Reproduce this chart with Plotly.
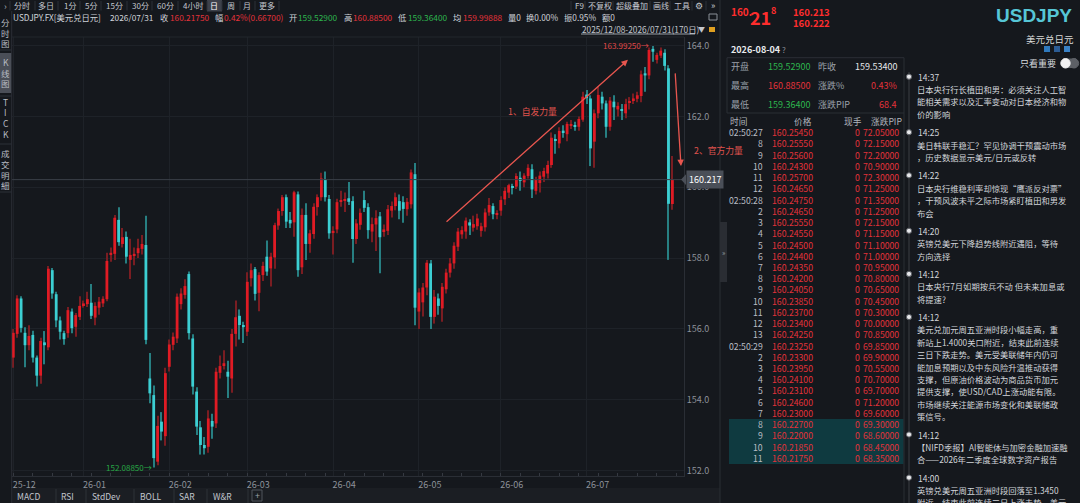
import plotly.graph_objects as go

W, H = 1080, 503
FONT = "Noto Sans CJK SC, Noto Sans, sans-serif"
BG = "#15181d"
RED = "#e01b24"
CYAN = "#3ccfd3"
RED_WICK = "#7a1d22"
CYAN_WICK = "#277f82"
TXT = "#cfd3d9"
GREY = "#8d929a"
LINE = "#2a2e35"
GRID = "#1e2228"
T_RED = "#e3323a"
T_GREEN = "#2db64e"

# ---- daily candles 2025/12/08 - 2026/07/31 (170 days) ----
opens = [155.19, 155.86, 156.86, 155.89, 155.54, 155.83, 155.19, 154.68, 155.62, 155.48,
         157.66, 156.98, 156.24, 155.88, 155.88, 156.49, 156.06, 156.34, 156.67, 156.70,
         156.74, 156.32, 156.60, 156.72, 156.84, 158.09, 158.12, 159.08, 158.40, 158.60,
         157.95, 158.06, 158.14, 158.26, 158.37, 154.60, 154.13, 152.25, 153.38, 152.97,
         154.93, 155.55, 155.73, 156.70, 156.96, 157.55, 155.73, 154.23, 153.22, 152.72,
         152.67, 153.40, 153.33, 154.76, 154.98, 154.79, 154.60, 155.86, 156.37, 156.11,
         155.92, 157.43, 157.69, 157.02, 157.52, 158.04, 157.71, 158.02, 158.92, 159.33,
         159.72, 159.08, 159.01, 159.80, 157.74, 159.22, 158.40, 158.68, 159.44, 159.72,
         160.21, 159.67, 158.73, 158.81, 159.59, 159.62, 159.69, 159.61, 158.54, 158.94,
         159.64, 159.44, 158.75, 158.95, 159.18, 158.76, 158.77, 159.34, 159.47, 159.61,
         159.58, 159.38, 159.52, 160.37, 156.49, 156.75, 157.17, 157.85, 156.34, 156.86,
         156.58, 157.12, 157.59, 157.85, 158.32, 158.67, 158.75, 159.01, 158.86, 158.90,
         158.77, 158.87, 159.29, 159.47, 159.22, 159.34, 159.66, 159.85, 160.03, 160.02,
         160.27, 160.14, 160.32, 160.51, 159.90, 160.12, 160.30, 160.39, 160.63, 161.36,
         161.24, 161.60, 161.50, 161.76, 161.76, 161.71, 161.91, 162.62, 162.51, 161.29,
         162.09, 162.56, 162.37, 161.71, 162.42, 162.20, 162.21, 162.09, 162.40, 162.46,
         162.50, 162.58, 163.22, 163.16, 163.91, 163.60, 163.72, 163.80, 163.36, 159.529]
highs = [156.00, 156.95, 156.92, 156.05, 156.10, 155.95, 155.25, 155.75, 155.94, 157.78,
         157.72, 157.05, 156.35, 155.95, 156.62, 156.58, 156.45, 156.92, 156.80, 157.05,
         157.27, 156.75, 156.90, 156.92, 158.15, 158.30, 159.22, 159.44, 158.85, 158.75,
         158.55, 158.30, 158.55, 158.65, 159.20, 155.32, 154.40, 153.55, 153.65, 154.90,
         155.70, 155.90, 157.00, 157.15, 157.40, 157.62, 155.85, 154.35, 153.40, 152.95,
         153.70, 153.60, 154.90, 155.25, 155.40, 155.10, 156.00, 156.80, 156.55, 156.20,
         157.60, 157.85, 157.75, 157.60, 157.90, 158.50, 158.15, 159.00, 159.40, 159.78,
         159.80, 159.30, 159.90, 159.88, 159.40, 159.55, 158.80, 159.55, 159.80, 160.41,
         160.45, 159.78, 158.90, 159.68, 159.90, 159.85, 160.15, 159.75, 159.10, 159.40,
         159.90, 159.55, 159.15, 159.35, 159.30, 158.95, 159.50, 159.60, 159.85, 159.80,
         159.75, 159.70, 160.50, 160.69, 157.15, 157.30, 157.95, 157.95, 157.10, 157.00,
         157.30, 157.70, 158.00, 158.45, 158.85, 158.90, 159.15, 159.10, 159.20, 159.25,
         159.00, 159.40, 159.70, 159.55, 159.35, 159.75, 160.00, 160.10, 160.10, 160.40,
         160.45, 160.40, 160.65, 160.65, 160.30, 160.45, 160.55, 160.75, 161.55, 161.50,
         161.70, 161.75, 161.85, 161.90, 161.85, 162.00, 162.70, 162.75, 162.60, 162.20,
         162.85, 162.70, 162.45, 162.55, 162.60, 162.40, 162.35, 162.50, 162.55, 162.65,
         162.70, 163.30, 163.40, 163.95, 163.9925, 163.80, 163.95, 163.90, 163.45, 160.885]
lows = [154.90, 155.75, 155.90, 154.92, 155.40, 155.05, 154.37, 154.45, 155.00, 155.40,
        156.85, 156.05, 155.70, 155.55, 155.75, 155.88, 155.78, 156.25, 156.60, 156.62,
        156.28, 156.10, 156.40, 156.62, 156.78, 157.90, 157.95, 158.35, 158.30, 157.85,
        157.41, 157.80, 158.00, 158.10, 155.57, 153.90, 152.0885, 152.15, 152.85, 152.70,
        154.80, 155.40, 155.60, 156.55, 156.85, 155.70, 154.15, 153.00, 152.45, 152.45,
        152.50, 152.90, 153.20, 154.60, 154.85, 154.05, 154.20, 155.50, 155.70, 155.60,
        155.80, 157.20, 156.80, 156.50, 157.35, 157.50, 157.20, 157.70, 158.80, 159.20,
        158.85, 158.85, 158.60, 157.47, 157.55, 157.95, 158.15, 158.55, 159.20, 159.62,
        159.60, 158.55, 158.10, 158.70, 159.45, 159.30, 159.50, 157.87, 158.40, 158.80,
        159.30, 158.55, 158.45, 158.20, 157.57, 158.60, 158.65, 159.15, 159.35, 159.10,
        159.00, 159.20, 159.40, 156.10, 156.00, 156.35, 156.95, 156.00, 156.15, 156.40,
        156.20, 157.00, 157.45, 157.70, 158.20, 158.55, 158.55, 158.65, 158.75, 158.80,
        158.60, 158.75, 159.20, 159.10, 159.10, 159.20, 159.50, 159.70, 159.80, 159.95,
        159.90, 160.00, 160.25, 159.70, 159.80, 159.85, 160.15, 160.25, 160.55, 160.95,
        161.10, 161.40, 161.30, 161.65, 161.60, 161.60, 161.85, 162.35, 160.60, 160.55,
        161.95, 162.20, 161.40, 161.60, 161.90, 162.00, 161.90, 161.95, 162.20, 162.35,
        162.40, 162.40, 162.70, 163.05, 163.55, 163.50, 163.65, 163.30, 157.95, 159.364]
closes = [155.89, 156.86, 156.03, 155.54, 155.80, 155.19, 154.68, 155.66, 155.54, 157.70,
          157.00, 156.24, 155.92, 155.71, 156.53, 156.02, 156.39, 156.65, 156.72, 156.84,
          156.37, 156.65, 156.77, 156.85, 157.92, 158.15, 159.14, 158.45, 158.59, 158.04,
          158.09, 158.12, 158.28, 158.40, 155.69, 154.18, 152.35, 153.26, 153.10, 154.75,
          155.56, 155.78, 156.91, 157.00, 157.21, 155.88, 154.37, 153.24, 152.72, 152.63,
          153.47, 153.24, 154.79, 154.95, 155.03, 154.65, 155.86, 156.33, 156.11, 156.05,
          157.33, 157.66, 156.99, 157.52, 157.78, 157.62, 158.04, 158.93, 159.33, 159.72,
          159.03, 158.98, 159.86, 157.66, 159.22, 158.40, 158.70, 159.45, 159.72, 160.25,
          159.72, 158.70, 158.77, 159.58, 159.64, 159.67, 159.59, 158.54, 158.98, 159.28,
          159.42, 158.79, 158.96, 159.13, 158.59, 158.81, 159.38, 159.47, 159.72, 159.34,
          159.39, 159.59, 160.42, 156.60, 157.03, 157.17, 157.87, 156.34, 156.91, 156.65,
          157.19, 157.59, 157.85, 158.35, 158.75, 158.79, 159.06, 158.92, 158.96, 159.12,
          158.90, 159.29, 159.50, 159.24, 159.25, 159.64, 159.90, 160.06, 159.99, 160.32,
          160.18, 160.33, 160.55, 159.94, 160.21, 160.33, 160.46, 160.63, 161.40, 161.31,
          161.59, 161.56, 161.79, 161.79, 161.73, 161.93, 162.56, 162.52, 161.10, 162.09,
          162.61, 162.37, 161.71, 162.45, 162.26, 162.30, 162.16, 162.35, 162.44, 162.51,
          162.60, 163.19, 163.16, 163.88, 163.83, 163.74, 163.86, 163.43, 159.534, 160.2175]

month_idx = [0, 18, 40, 60, 82, 104, 125, 147]
month_labels = ["25-12", "26-01", "26-02", "26-03", "26-04", "26-05", "26-06", "26-07"]
price_ticks = [152, 154, 156, 158, 160, 162, 164]

# ---- tick table (right panel) ----
tick_times = ["02:50:27", "8", "9", "10", "11", "12", "02:50:28", "2", "3", "4", "5", "6", "7",
              "8", "9", "10", "11", "12", "13", "02:50:29", "2", "3", "4", "5", "6", "7",
              "8", "9", "10", "11"]
tick_prices = ["160.25450", "160.25550", "160.25600", "160.24300", "160.25700", "160.24650",
               "160.24750", "160.24650", "160.25550", "160.24550", "160.24500", "160.24400",
               "160.24350", "160.24200", "160.24050", "160.23850", "160.23700", "160.23400",
               "160.24250", "160.23250", "160.23300", "160.23950", "160.24100", "160.23100",
               "160.24600", "160.23000", "160.22700", "160.22000", "160.21850", "160.21750"]
tick_pips = ["72.05000", "72.15000", "72.20000", "70.90000", "72.30000", "71.25000",
             "71.35000", "71.25000", "72.15000", "71.15000", "71.10000", "71.00000",
             "70.95000", "70.80000", "70.65000", "70.45000", "70.30000", "70.00000",
             "70.85000", "69.85000", "69.90000", "70.55000", "70.70000", "69.70000",
             "71.20000", "69.60000", "69.30000", "68.60000", "68.45000", "68.35000"]

news_times = ["14:37", "14:25", "14:22", "14:20", "14:12", "14:12", "14:12", "14:00"]
news_lines = [
    ["日本央行行长植田和男：必须关注人工智", "能相关需求以及汇率变动对日本经济和物", "价的影响"],
    ["美日韩联手稳汇？罕见协调干预震动市场", "，历史数据显示美元/日元或反转"],
    ["日本央行维稳利率却惊现“鹰派反对票”", "，干预风波未平之际市场紧盯植田和男发", "布会"],
    ["英镑兑美元下降趋势线附近遇阻，等待", "方向选择"],
    ["日本央行7月如期按兵不动 但未来加息或", "将提速?"],
    ["美元兑加元周五亚洲时段小幅走高，重", "新站上1.4000关口附近，结束此前连续",
     "三日下跌走势。美元受美联储年内仍可", "能加息预期以及中东风险升温推动获得",
     "支撑，但原油价格波动为商品货币加元", "提供支撑，使USD/CAD上涨动能有限。",
     "市场继续关注能源市场变化和美联储政", "策信号。"],
    ["【NIFD季报】AI智能体与加密金融加速融", "合——2026年二季度全球数字资产报告"],
    ["英镑兑美元周五亚洲时段回落至1.3450", "附近，结束此前连续三日上涨走势。美元"],
]

idx = list(range(len(closes)))
up = [c >= o for o, c in zip(opens, closes)]

ann, shapes = [], []


def label(x, y, text, color=TXT, size=8.5, xanchor="left", yanchor="middle", family=FONT):
    ann.append(dict(x=x / W, y=1 - y / H, xref="paper", yref="paper", text=text,
                    showarrow=False, xanchor=xanchor, yanchor=yanchor, borderpad=0,
                    font=dict(color=color, size=size, family=family)))


def line(x0, y0, x1, y1, color=LINE, width=1):
    shapes.append(dict(type="line", xref="paper", yref="paper", x0=x0 / W, y0=1 - y0 / H,
                       x1=x1 / W, y1=1 - y1 / H, line=dict(color=color, width=width)))


def rect(x0, y0, x1, y1, fill, outline=None):
    shapes.append(dict(type="rect", xref="paper", yref="paper", x0=x0 / W, y0=1 - y0 / H,
                       x1=x1 / W, y1=1 - y1 / H, fillcolor=fill, layer="below",
                       line=dict(color=outline or fill, width=1 if outline else 0)))


def dot(x, y, r, fill, outline):
    shapes.append(dict(type="circle", xref="paper", yref="paper", x0=(x - r) / W, y0=1 - (y + r) / H,
                       x1=(x + r) / W, y1=1 - (y - r) / H, fillcolor=fill,
                       line=dict(color=outline, width=1)))


fig = go.Figure()
# wicks then bodies (overlay bars keep trace order)
fig.add_trace(go.Bar(x=idx, y=[h - l for h, l in zip(highs, lows)], base=lows, width=0.26,
                     marker=dict(color=[RED_WICK if u else CYAN_WICK for u in up], line_width=0),
                     hoverinfo="skip"))
fig.add_trace(go.Bar(x=idx, y=[abs(c - o) for o, c in zip(opens, closes)],
                     base=[min(o, c) for o, c in zip(opens, closes)], width=0.72,
                     marker=dict(color=[RED if u else CYAN for u in up], line_width=0),
                     hoverinfo="skip"))

last = closes[-1]
PLOT_L, PLOT_R, PLOT_T, PLOT_B = 12, 684, 37, 476

# current price line + tag
shapes.append(dict(type="line", xref="paper", yref="y", x0=PLOT_L / W, x1=PLOT_R / W, y0=last, y1=last,
                   line=dict(color="#3a3f47", width=1)))
shapes.append(dict(type="path", xref="paper", yref="y", fillcolor="#4a4f58", line=dict(width=0),
                   path=f"M {681 / W},{last} L {686 / W},{last + 0.15} L {686 / W},{last - 0.15} Z"))
ann.append(dict(x=686 / W, y=last, xref="paper", yref="y", text=f"{int(last * 1000) / 1000:.3f}",
                showarrow=False, xanchor="left", yanchor="middle", bgcolor="#4a4f58", borderpad=2,
                font=dict(color="#ffffff", size=9, family=FONT)))
line(PLOT_L, PLOT_T, PLOT_R, PLOT_T, "#22262d")

# extreme labels
hi_i = highs.index(max(highs))
lo_i = lows.index(min(lows))
ann.append(dict(x=651 / W, y=highs[hi_i], xref="paper", yref="y", text=f"{highs[hi_i]:.5f}→",
                showarrow=False, xanchor="right", yanchor="middle",
                font=dict(color="#e04848", size=8, family=FONT)))
ann.append(dict(x=154 / W, y=lows[lo_i], xref="paper", yref="y", text=f"{lows[lo_i]:.5f}→",
                showarrow=False, xanchor="right", yanchor="middle",
                font=dict(color="#27a846", size=8, family=FONT)))

# drawn trend arrows and notes
ARROW = "#e8564f"
ann.append(dict(x=157.6, y=163.6, ax=110.7, ay=158.99, xref="x", yref="y", axref="x", ayref="y",
                text="", showarrow=True, arrowhead=2, arrowsize=1, arrowwidth=1.3, arrowcolor=ARROW))
ann.append(dict(x=171.2, y=160.6, ax=169.7, ay=163.26, xref="x", yref="y", axref="x", ayref="y",
                text="", showarrow=True, arrowhead=2, arrowsize=1, arrowwidth=1.3, arrowcolor=ARROW))
ann.append(dict(x=133, y=162.13, xref="x", yref="y", text="1、自发力量", showarrow=False,
                font=dict(color="#e0534d", size=8.8, family=FONT)))
ann.append(dict(x=692 / W, y=161.05, xref="paper", yref="y", text="2、官方力量", showarrow=False,
                xanchor="left", font=dict(color="#e0534d", size=8.8, family=FONT)))

# ---- top toolbar ----
tb_items = ["分时", "多日", "1分", "5分", "15分", "30分", "60分", "4小时", "日", "周", "月", "更多"]
tb_x = [22, 46, 70, 91, 114, 140, 165, 193, 214, 231, 247, 267]
rect(207, 0, 222, 11.5, "#3d414a")
label(5, 6.2, "›", "#aab0b8", 9, "center")
for t, x in zip(tb_items, tb_x):
    label(x, 5.7, t, "#ffffff" if t == "日" else "#c3c7ce", 8, "center")
for x in [10, 35, 58, 80, 101, 127, 152, 178, 207, 222, 240, 255, 279]:
    line(x, 1, x, 10.5, "#2c3038")
rt_items = ["F9", "不复权", "超级叠加", "画线", "工具"]
rt_x = [574, 587, 615, 652, 673]
for t, x in zip(rt_items, rt_x):
    label(x, 5.7, t, "#c3c7ce", 8)
label(699, 5.7, "⚙", "#c3c7ce", 9, "center")
label(713, 5.7, "»", "#c3c7ce", 9, "center")
for x in [571, 585, 613, 650, 670, 692, 706]:
    line(x, 1, x, 10.5, "#2c3038")
rect(709, 14, 717, 20, BG, "#8a8f97")

# ---- quote row ----
quote = [(12, "USDJPY.FX[美元兑日元]", TXT), (109, "2026/07/31", TXT),
         (159, "收", TXT), (169, "160.21750", T_RED), (214, "幅", TXT), (223, "0.42%(0.66700)", T_RED),
         (288, "开", TXT), (297, "159.52900", T_GREEN), (343, "高", TXT), (352, "160.88500", T_RED),
         (397, "低", TXT), (407, "159.36400", T_GREEN), (452, "均", TXT), (462, "159.99888", T_RED),
         (507, "量0", TXT), (525, "换0.00%", TXT), (563, "振0.95%", TXT), (601, "额0", TXT)]
for x, t, c in quote:
    label(x, 17.3, t, c, 8.3)
label(581, 28.5, "2025/12/08-2026/07/31(170日)", "#c3c7ce", 8.3)
line(581, 34, 695, 34, "#9aa0a8")
label(701, 28.5, "▼", "#c3c7ce", 7, "center")
rect(709, 27, 715, 32, "#e0a020")

# ---- left sidebar ----
line(11.7, 11, 11.7, H, LINE)
rect(0, 53, 11.5, 93, "#4a4e57")
side = [("分", 21.7), ("时", 33), ("图", 43.3), ("K", 62.3), ("线", 73.3), ("图", 83.3),
        ("T", 101.7), ("I", 112.3), ("C", 123.3), ("K", 134), ("成", 153.3), ("交", 164),
        ("明", 174.7), ("細", 185)]
for ch, y in side:
    label(5.8, y, ch, "#b9bdc4", 8.5, "center")
for y in [50, 96, 144, 192]:
    line(0, y, 11.5, y, "#2c3038")

# ---- bottom indicator tabs ----
rect(12, 488, 720, 503, "#1b1e23")
for t, x in zip(["MACD", "RSI", "StdDev", "BOLL", "SAR", "W&R"], [16, 60, 91, 139, 178, 212]):
    label(x, 495.5, t, "#c3c7ce", 8.5)
for x in [56, 86, 134, 174, 207, 248]:
    line(x, 489, x, 503, "#2e3239")
rect(252, 490, 262, 501, "#1b1e23", "#50545c")
label(257, 495.5, "+", "#9aa0a8", 9, "center")

# ---- right panel header ----
line(720, 0, 720, H, LINE)
BIG_RED = "#ff2d2d"
label(730, 11.5, "<b>160.</b>", BIG_RED, 10)
label(749, 16.5, "<b>21</b>", BIG_RED, 18)
label(770, 10.5, "<b>8</b>", BIG_RED, 9)
label(792, 11.5, "<b>160.213</b>", BIG_RED, 9.5)
label(792, 22.7, "<b>160.222</b>", BIG_RED, 9.5)
label(1073, 15, "<b>USDJPY</b>", "#56c6d6", 19, "right", family="Liberation Sans, Arial, sans-serif")
label(1075, 39, "美元兑日元", "#d8d8d8", 9.5, "right")
for x, c in zip([1047, 1057, 1067], ["#2f79bd", "#2c5c94", "#3a82c6"]):
    rect(x - 3, 46, x + 3, 52, c)
label(730, 49.3, "<b>2026-08-04</b>", "#e8eaed", 9)
label(781, 49.6, "?", "#8a8f97", 8)

# stats box
line(727, 57.7, 904, 57.7)
line(727, 113, 904, 113)
line(727, 57.7, 727, 113)
line(904, 57.7, 904, H)
stat_rows = [("开盘", "159.52900", T_GREEN, "昨收", "159.53400", "#e6e8eb"),
             ("最高", "160.88500", T_RED, "涨跌%", "0.43%", T_RED),
             ("最低", "159.36400", T_GREEN, "涨跌PIP", "68.4", T_RED)]
for (l1, v1, c1, l2, v2, c2), y in zip(stat_rows, [66.7, 85.7, 104.3]):
    label(730, y, l1, "#9ba1aa", 9)
    label(811, y, v1, c1, 9, "right")
    label(817, y, l2, "#9ba1aa", 9)
    label(898, y, v2, c2, 9, "right")

# tick table
label(729, 121.8, "时间", "#b0b5bc", 8.7)
label(813, 121.8, "价格", "#b0b5bc", 8.7, "right")
label(843, 121.8, "现手", "#b0b5bc", 8.7)
label(870, 121.8, "涨跌PIP", "#b0b5bc", 8.7)
rect(729, 419, 903.5, 464, "#0f3a40")
for k, (t, p, d) in enumerate(zip(tick_times, tick_prices, tick_pips)):
    y = 132.7 + k * 11.23
    label(764, y, t, "#b9bdc4", 8.7, "right")
    label(814, y, p, T_RED, 8.7, "right")
    label(857, y, "0", T_RED, 8.7, "center")
    label(862, y, d, T_RED, 8.7)
rect(720, 222, 727, 282, "#2a2d33")
label(723.5, 252, "»", "#9aa0a8", 7, "center")

# ---- news timeline ----
label(1057, 63.3, "只看重要", "#d8dadf", 9, "right")
rect(1063, 58.5, 1076, 68, "#5d6066")
dot(1074, 63.3, 4.7, "#5d6066", "#5d6066")
dot(1065.5, 63.3, 4.7, "#f2f2f2", "#f2f2f2")
line(909, 72, 909, H, "#3c3f45")
y = 76.7
for t, lines in zip(news_times, news_lines):
    dot(909, y, 2.6, "#e6e7ea", "#5a5d63")
    label(916.5, y, t, "#d2d5da", 8.5)
    for k, s in enumerate(lines):
        label(916, y + 12.4 * (k + 1), s, "#d2d5da", 8.3)
    y += 12.4 * len(lines) + 18.3

fig.update_layout(
    width=W, height=H, margin=dict(l=0, r=0, t=0, b=0),
    paper_bgcolor=BG, plot_bgcolor=BG, showlegend=False, barmode="overlay",
    font=dict(family=FONT, color=TXT),
    annotations=ann, shapes=shapes,
    xaxis=dict(domain=[PLOT_L / W, PLOT_R / W], range=[(PLOT_L - 13.3) / 3.9, (PLOT_R - 13.3) / 3.9],
               tickvals=month_idx, ticktext=month_labels, ticklabelshift=11,
               tickfont=dict(size=9, color=GREY), showgrid=True, gridcolor=GRID, zeroline=False,
               showline=True, linecolor=LINE, ticks="",
               minor=dict(dtick=5, tick0=0, ticks="inside", ticklen=3, tickcolor="#353941", showgrid=False),
               fixedrange=True),
    yaxis=dict(domain=[1 - PLOT_B / H, 1 - PLOT_T / H], range=[151.845, 164.246], side="right",
               tickvals=price_ticks, tickformat=".1f", tickfont=dict(size=9, color=GREY),
               showgrid=True, gridcolor=GRID, zeroline=False, showline=True, linecolor=LINE,
               ticks="", fixedrange=True),
)

# drop the browser's default body margin so the 1080x503 figure fills the window
fig.write_html("out.html", config={"displayModeBar": False},
               post_script="document.body.style.margin='0';document.body.style.overflow='hidden';")
